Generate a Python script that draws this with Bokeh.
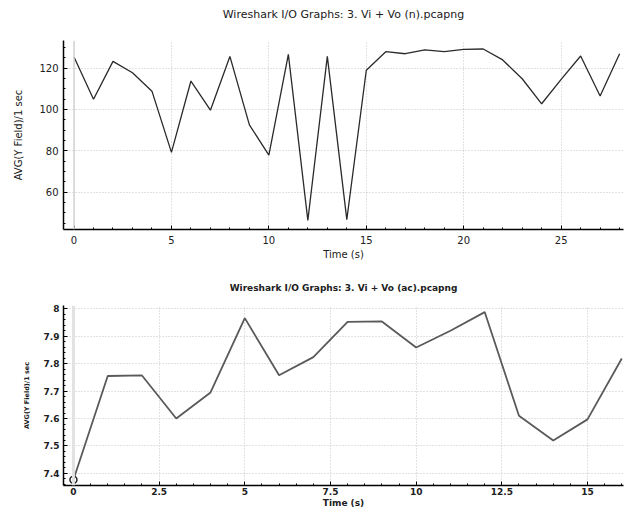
from bokeh.plotting import figure
from bokeh.layouts import column
from bokeh.models import Range1d, Span, SingleIntervalTicker, Title
from bokeh.embed import file_html
from bokeh.resources import INLINE

# ---- data: top chart ----
top_title = "Wireshark I/O Graphs: 3. Vi + Vo (n).pcapng"
top_x = list(range(0, 29))
top_y = [125.3, 104.9, 123.2, 117.7, 108.8, 79.2, 113.7, 99.6, 125.6, 92.5,
         77.9, 126.6, 46.3, 125.6, 46.7, 118.9, 127.9, 126.9, 128.8, 127.9,
         129.0, 129.2, 123.9, 114.8, 102.7, 114.5, 125.8, 106.5, 126.9]

# ---- data: bottom chart ----
bot_title = "Wireshark I/O Graphs: 3. Vi + Vo (ac).pcapng"
bot_x = list(range(0, 17))
bot_y = [7.377, 7.755, 7.757, 7.600, 7.695, 7.966, 7.758, 7.824, 7.952, 7.954,
         7.859, 7.920, 7.988, 7.610, 7.520, 7.597, 7.819]
y_label = "AVG(Y Field)/1 sec"
x_label = "Time (s)"

FONT = "DejaVu Sans"


def style(p, fs, bold=False, ylab_fs="9px", grid_col="#c4c4c4"):
    p.outline_line_color = None
    p.background_fill_color = "white"
    p.border_fill_color = "white"
    for ax in (p.xaxis[0], p.yaxis[0]):
        ax.axis_line_color = "black"
        ax.axis_line_width = 1.5
        ax.major_tick_in = 4
        ax.major_tick_out = 0
        ax.minor_tick_in = 2
        ax.minor_tick_out = 0
        ax.major_tick_line_color = "black"
        ax.minor_tick_line_color = "black"
        ax.major_label_text_font = FONT
        ax.major_label_text_font_size = fs
        ax.major_label_text_color = "#202020"
        ax.axis_label_text_font = FONT
        ax.axis_label_text_font_style = "bold" if bold else "normal"
        ax.major_label_text_font_style = "bold" if bold else "normal"
        ax.axis_label_text_color = "#202020"
    p.xaxis.axis_label_text_font_size = fs
    p.yaxis.axis_label_text_font_size = ylab_fs
    p.xgrid.grid_line_color = grid_col
    p.ygrid.grid_line_color = grid_col
    p.xgrid.grid_line_dash = "1 2"
    p.ygrid.grid_line_dash = "1 2"
    p.title.align = "center"
    p.title.text_font = FONT
    p.title.text_font_style = "bold" if bold else "normal"
    p.title.text_color = "#202020"


# ---------------- top figure ----------------
p1 = figure(width=631, height=262, output_backend="svg", toolbar_location=None,
            x_range=Range1d(-0.54, 28.2), y_range=Range1d(41.9, 133.3),
            title=top_title, x_axis_label=x_label, y_axis_label=y_label,
            min_border_left=63, min_border_right=1, min_border_top=39,
            min_border_bottom=33)
p1.xaxis.ticker = SingleIntervalTicker(interval=5, num_minor_ticks=5)
p1.yaxis.ticker = SingleIntervalTicker(interval=20, num_minor_ticks=4)
style(p1, "10px", ylab_fs="10px")
p1.title.text_font_size = "11px"
p1.title.standoff = 10
# spacer between title and plot frame
p1.add_layout(Title(text=" ", text_font_size="1px", standoff=12), "above")
p1.xaxis.major_label_standoff = 6
p1.yaxis.major_label_standoff = 5
p1.xaxis.axis_label_standoff = 2
p1.yaxis.axis_label_standoff = 12
p1.add_layout(Span(location=0, dimension="height", line_color="#d4d4d4", line_width=1.5))
p1.line(top_x, top_y, line_color="#2a2a2a", line_width=1.3)

# ---------------- bottom figure ----------------
p2 = figure(width=631, height=248, output_backend="svg", toolbar_location=None,
            x_range=Range1d(-0.29, 16.05), y_range=Range1d(7.356, 8.012),
            title=bot_title, x_axis_label=x_label, y_axis_label=y_label,
            min_border_left=51, min_border_right=8, min_border_top=43,
            min_border_bottom=23)
p2.xaxis.ticker = SingleIntervalTicker(interval=2.5, num_minor_ticks=5)
p2.yaxis.ticker = SingleIntervalTicker(interval=0.1, num_minor_ticks=5)
style(p2, "9px", bold=True, ylab_fs="6.5px")
p2.title.text_font_size = "9px"
p2.title.standoff = 25
p2.xaxis.major_label_standoff = 2
p2.yaxis.major_label_standoff = 4
p2.xaxis.axis_label_standoff = 0
p2.yaxis.axis_label_standoff = 10
p2.add_layout(Span(location=0, dimension="height", line_color="#e2e2e2", line_width=3))
p2.line(bot_x, bot_y, line_color="#5a5a5a", line_width=1.8)
p2.scatter(bot_x[:1], bot_y[:1], marker="circle", size=7, fill_color=None,
           line_color="#202020", line_width=1.5)

layout = column(p1, p2, spacing=0)
open("out.html", "w").write(file_html(layout, INLINE))
